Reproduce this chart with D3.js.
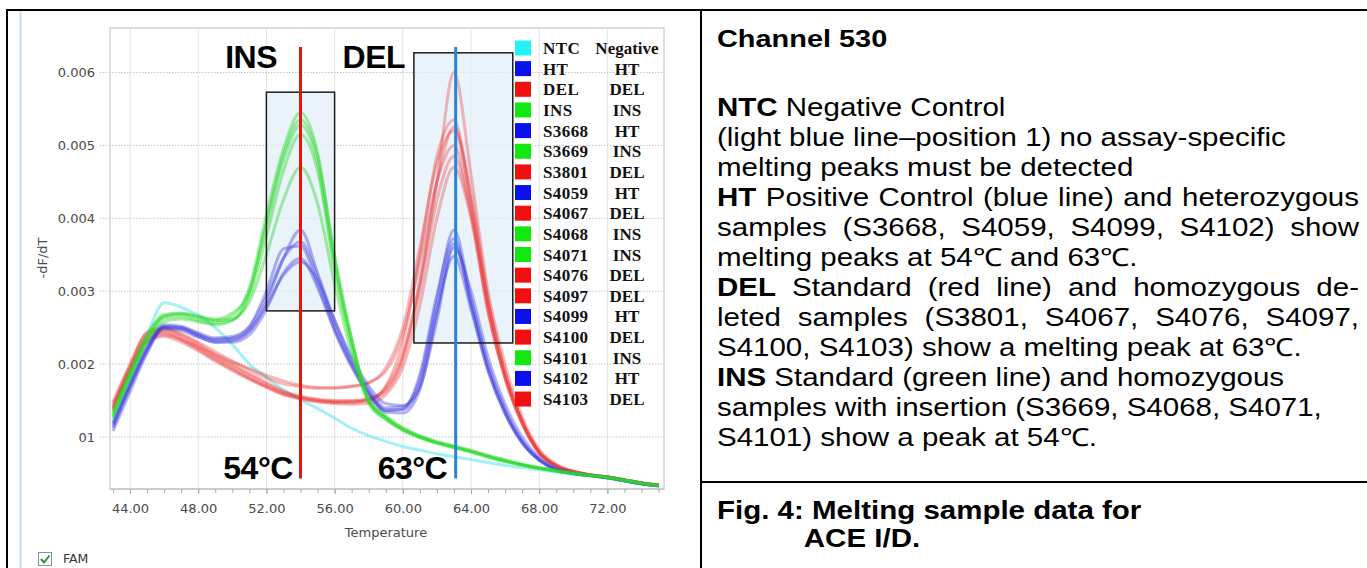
<!DOCTYPE html>
<html>
<head>
<meta charset="utf-8">
<script src="https://cdn.jsdelivr.net/npm/d3@7"></script>
<style>
  html, body { margin: 0; padding: 0; background: #fff; }
  svg { display: block; }
</style>
</head>
<body>
<div id="fig"></div>
<script>
// temperature grid (°C); curve values are -dF/dT in units of 1e-4
var temps = [43,44,45,46,47,48,49,50,51,52,53,54,55,56,57,58,59,60,61,62,63,64,65,66,67,68,69,70,71,72,73,74,75];

var ntc   = [12.5,18.0,24.0,28.4,27.8,26.7,25.0,22.7,20.0,18.2,16.5,15.1,13.9,12.6,11.2,10.2,9.4,8.7,8.2,7.7,7.3,6.9,6.5,6.1,5.8,5.5,5.2,4.9,4.7,4.5,4.1,3.7,3.3];

var ht    = [11.5,17.0,22.0,25.2,25.0,24.0,23.3,23.4,24.6,28.5,34.5,38.4,32.5,26.0,20.5,16.5,14.0,14.2,18.0,28.8,38.4,29.0,20.0,13.8,9.5,7.0,5.6,5.0,4.7,4.4,4.0,3.6,3.3];
var s3668 = [12.0,17.5,22.5,25.4,25.2,24.3,23.6,23.8,25.2,30.0,35.8,36.2,31.0,24.8,19.8,16.0,13.6,13.8,18.6,29.5,37.2,28.0,19.2,13.2,9.2,6.8,5.5,5.0,4.7,4.4,4.0,3.6,3.3];
var s4059 = [11.8,17.2,22.2,25.0,24.8,23.8,23.0,23.0,24.0,27.5,32.5,34.5,30.5,24.5,19.6,15.8,13.4,13.3,16.5,27.0,36.5,28.5,19.6,13.5,9.3,6.9,5.5,5.0,4.7,4.4,4.0,3.6,3.3];
var s4099 = [10.8,16.2,21.5,24.8,24.6,23.7,23.0,23.2,24.5,28.0,32.2,34.0,31.5,26.0,21.0,17.0,14.6,14.3,16.8,26.0,36.0,30.0,21.0,14.5,10.0,7.2,5.7,5.1,4.7,4.4,4.0,3.6,3.3];
var s4102 = [11.2,16.8,21.8,25.1,25.0,24.1,23.4,23.6,25.0,29.2,34.5,36.8,32.0,25.2,20.2,16.2,13.7,13.8,17.2,27.5,34.8,27.5,19.0,13.2,9.2,6.8,5.5,5.0,4.7,4.4,4.0,3.6,3.3];

var del   = [14.2,19.5,24.0,24.8,24.0,22.8,21.3,20.0,18.7,17.5,16.3,15.6,15.2,15.0,15.0,15.2,16.8,21.5,31.0,45.0,60.0,46.0,30.0,20.0,12.8,8.3,6.3,5.3,4.8,4.5,4.1,3.7,3.4];
var s3801 = [13.8,19.2,23.6,24.4,23.5,22.2,20.8,19.5,18.2,17.0,16.0,15.4,15.0,14.8,14.8,15.0,17.0,23.0,35.0,48.5,53.5,42.0,28.5,18.5,12.0,7.8,6.0,5.2,4.8,4.5,4.1,3.7,3.4];
var s4067 = [14.5,19.8,24.2,24.6,23.8,22.5,21.0,19.8,18.5,17.3,16.2,15.5,15.1,14.9,14.9,15.3,16.5,21.0,31.5,45.0,52.5,43.5,29.0,19.0,12.3,8.0,6.1,5.3,4.8,4.5,4.1,3.7,3.4];
var s4076 = [14.0,19.0,23.2,24.0,23.4,22.4,21.3,20.3,19.4,18.5,17.7,17.1,16.8,16.8,17.0,17.5,19.0,24.0,34.0,45.0,50.0,41.0,27.5,18.0,11.8,7.8,6.0,5.2,4.8,4.5,4.1,3.7,3.4];
var s4097 = [13.5,18.8,23.0,23.8,23.0,21.8,20.4,19.1,17.9,16.8,15.8,15.2,14.8,14.6,14.5,14.6,15.8,19.5,28.0,40.0,47.0,40.0,27.0,18.0,11.8,7.8,6.0,5.2,4.8,4.5,4.1,3.7,3.4];
var s4100 = [14.8,20.0,24.4,25.0,24.2,23.0,21.7,20.4,19.2,18.1,17.3,16.9,16.7,16.7,16.9,17.4,19.5,25.0,36.0,47.5,52.0,42.5,28.5,18.8,12.2,8.0,6.1,5.3,4.8,4.5,4.1,3.7,3.4];
var s4103 = [13.9,19.1,23.4,24.2,23.3,22.0,20.6,19.3,18.0,16.9,15.9,15.3,14.9,14.7,14.7,15.0,16.2,20.5,30.0,42.5,48.5,40.5,27.5,18.2,12.0,7.9,6.0,5.2,4.8,4.5,4.1,3.7,3.4];

var ins   = [13.0,18.5,23.5,26.5,26.8,26.3,25.9,26.6,30.5,40.5,49.5,54.5,49.0,34.5,23.5,15.0,12.6,11.0,10.0,9.2,8.6,8.0,7.3,6.7,6.2,5.7,5.3,5.0,4.7,4.5,4.1,3.7,3.3];
var s3669 = [13.5,19.0,24.0,26.8,27.0,26.6,26.2,27.0,30.0,39.0,48.0,52.8,47.5,33.5,23.0,15.2,12.8,11.2,10.1,9.3,8.7,8.1,7.4,6.8,6.2,5.8,5.4,5.0,4.7,4.5,4.1,3.7,3.4];
var s4068 = [12.8,18.2,23.2,26.2,26.5,26.0,25.6,26.0,29.2,37.5,46.5,51.5,46.5,33.0,22.5,14.8,12.5,11.0,10.0,9.2,8.6,8.0,7.3,6.7,6.2,5.7,5.3,5.0,4.7,4.4,4.0,3.6,3.3];
var s4071 = [13.2,18.8,23.8,26.6,26.9,26.5,26.0,26.2,28.5,35.0,42.5,47.0,42.0,31.0,21.5,14.6,12.4,10.9,9.9,9.1,8.5,7.9,7.2,6.6,6.1,5.7,5.3,5.0,4.7,4.4,4.0,3.6,3.3];
var s4101 = [12.6,18.0,23.0,25.8,26.2,25.8,25.4,26.0,29.8,39.5,48.8,53.5,48.5,35.0,23.5,15.2,12.9,11.3,10.2,9.4,8.8,8.2,7.5,6.9,6.3,5.8,5.4,5.1,4.8,4.5,4.1,3.7,3.4];

// legend order
var sampleNames  = ['NTC','HT','DEL','INS','S3668','S3669','S3801','S4059','S4067','S4068','S4071','S4076','S4097','S4099','S4100','S4101','S4102','S4103'];
var sampleStatus = ['Negative','HT','DEL','INS','HT','INS','DEL','HT','DEL','INS','INS','DEL','DEL','HT','DEL','INS','HT','DEL'];
var sampleValues = [ntc, ht, del, ins, s3668, s3669, s3801, s4059, s4067, s4068, s4071, s4076, s4097, s4099, s4100, s4101, s4102, s4103];

var xTicks = [44,48,52,56,60,64,68,72];
var xMinor = [43,44,45,46,47,48,49,50,51,52,53,54,55,56,57,58,59,60,61,62,63,64,65,66,67,68,69,70,71,72,73,74,75];
var yTicks = [0.001,0.002,0.003,0.004,0.005,0.006];
var yTickLabels = ['01','0.002','0.003','0.004','0.005','0.006'];

// highlighted windows: [tempFrom, tempTo, valueLow, valueHigh]
var insWindow = [52, 56, 0.00273, 0.00573];
var delWindow = [60.65, 66.45, 0.00229, 0.00627];
var peakTemps = [54, 63.1];

var lineColor  = {Negative: '#58e4ec', HT: '#3838dc', DEL: '#ea3434', INS: '#2cd82c'};
var lineAlpha  = {Negative: 0.55, HT: 0.38, DEL: 0.34, INS: 0.42};
var swatchColor = {Negative: '#22f4f6', HT: '#0a10ea', DEL: '#f01010', INS: '#10e810'};

var W = 1367, H = 568;
var plot = {left: 110, right: 664, top: 28, bottom: 489};

var x = d3.scaleLinear().domain([44, 72]).range([130, 607.4]);
var y = d3.scaleLinear().domain([0.001, 0.006]).range([437, 72.5]);

var svg = d3.select('#fig').append('svg')
  .attr('width', W).attr('height', H)
  .style('font-family', "'Liberation Sans', Arial, sans-serif");

// ---- frame ----
var frame = svg.append('g').attr('stroke', '#000').attr('stroke-width', 2);
frame.append('line').attr('x1', 6).attr('x2', W).attr('y1', 10).attr('y2', 10);
frame.append('line').attr('x1', 7).attr('x2', 7).attr('y1', 9).attr('y2', H);
frame.append('line').attr('x1', 701).attr('x2', 701).attr('y1', 9).attr('y2', H);
frame.append('line').attr('x1', 701).attr('x2', W).attr('y1', 482).attr('y2', 482);
svg.append('line')
  .attr('x1', 20.5).attr('x2', 20.5).attr('y1', 11).attr('y2', H)
  .attr('stroke', '#c9dcef').attr('stroke-width', 2);

// ---- chart ----
var chart = svg.append('g');

svg.append('defs').append('clipPath').attr('id', 'plotclip')
  .append('rect')
    .attr('x', plot.left).attr('y', plot.top)
    .attr('width', plot.right - plot.left).attr('height', plot.bottom - plot.top);

chart.append('rect')
  .attr('x', plot.left).attr('y', plot.top)
  .attr('width', plot.right - plot.left).attr('height', plot.bottom - plot.top)
  .attr('fill', '#fff').attr('stroke', '#d4d4d4').attr('stroke-width', 1.5);

chart.append('g').selectAll('line').data(xTicks).join('line')
  .attr('x1', d => x(d)).attr('x2', d => x(d))
  .attr('y1', plot.top).attr('y2', plot.bottom)
  .attr('stroke', '#e2e2e2').attr('stroke-width', 1);

chart.append('g').selectAll('line').data(yTicks).join('line')
  .attr('x1', plot.left - 10).attr('x2', plot.right)
  .attr('y1', d => y(d)).attr('y2', d => y(d))
  .attr('stroke', '#c4c4c4').attr('stroke-width', 1)
  .attr('stroke-dasharray', '1.5,1.5');

// window fills
var windows = [insWindow, delWindow];
chart.append('g').selectAll('rect').data(windows).join('rect')
  .attr('x', d => x(d[0])).attr('y', d => y(d[3]))
  .attr('width', d => x(d[1]) - x(d[0])).attr('height', d => y(d[2]) - y(d[3]))
  .attr('fill', '#e3edf8').attr('fill-opacity', 0.75);

// curves
var line = d3.line()
  .x((d, i) => x(temps[i]))
  .y(d => y(d * 1e-4))
  .curve(d3.curveMonotoneX);

var drawOrder = ['Negative', 'DEL', 'HT', 'INS'];
var curves = sampleValues.map(function (v, i) {
  return {name: sampleNames[i], status: sampleStatus[i], values: v};
}).sort(function (a, b) { return drawOrder.indexOf(a.status) - drawOrder.indexOf(b.status); });

chart.append('g').attr('clip-path', 'url(#plotclip)')
  .selectAll('path').data(curves).join('path')
    .attr('d', d => line(d.values))
    .attr('fill', 'none')
    .attr('stroke', d => lineColor[d.status])
    .attr('stroke-opacity', d => lineAlpha[d.status])
    .attr('stroke-width', 3)
    .attr('stroke-linejoin', 'round');

// window outlines
chart.append('g').selectAll('rect').data(windows).join('rect')
  .attr('x', d => x(d[0])).attr('y', d => y(d[3]))
  .attr('width', d => x(d[1]) - x(d[0])).attr('height', d => y(d[2]) - y(d[3]))
  .attr('fill', 'none').attr('stroke', '#1c1c1c').attr('stroke-width', 1.5);

// peak markers
var peakColors = ['#e41414', '#2a84d8'];
chart.append('g').selectAll('line').data(peakTemps).join('line')
  .attr('x1', d => x(d)).attr('x2', d => x(d))
  .attr('y1', y(0.00635)).attr('y2', y(0.00043))
  .attr('stroke', (d, i) => peakColors[i]).attr('stroke-width', 3);

// axes
var xAxis = chart.append('g')
  .attr('transform', 'translate(0,' + plot.bottom + ')')
  .call(d3.axisBottom(x).tickValues(xTicks).tickFormat(d3.format('.2f')).tickSize(5).tickPadding(10));
chart.append('g')
  .attr('transform', 'translate(0,' + plot.bottom + ')')
  .call(d3.axisBottom(x).tickValues(xMinor).tickFormat('').tickSize(4).tickSizeOuter(0))
  .call(g => g.select('.domain').remove());
xAxis.select('.domain').attr('stroke', '#b8b8b8').attr('d', 'M' + plot.left + ',0H' + plot.right);
chart.selectAll('.tick line').attr('stroke', '#a8a8a8');
xAxis.selectAll('text')
  .attr('fill', '#4a4a4a').style('font-family', "'DejaVu Sans', sans-serif").style('font-size', '13px');

var yAxis = chart.append('g')
  .attr('transform', 'translate(' + (plot.left - 15) + ',0)')
  .call(d3.axisLeft(y).tickValues(yTicks).tickFormat((d, i) => yTickLabels[i]).tickSize(0).tickPadding(0));
yAxis.select('.domain').remove();
yAxis.selectAll('text')
  .attr('fill', '#4a4a4a').style('font-family', "'DejaVu Sans', sans-serif").style('font-size', '13px');

chart.append('text')
  .attr('x', (plot.left + plot.right) / 2 - 1).attr('y', 537)
  .attr('text-anchor', 'middle').attr('fill', '#4a4a4a')
  .style('font-family', "'DejaVu Sans', sans-serif").style('font-size', '13px')
  .text('Temperature');
chart.append('text')
  .attr('transform', 'translate(47,258) rotate(-90)')
  .attr('text-anchor', 'middle').attr('fill', '#4a4a4a')
  .style('font-family', "'DejaVu Sans', sans-serif").style('font-size', '13px')
  .text('-dF/dT');

// FAM checkbox
chart.append('rect').attr('x', 38.5).attr('y', 552.5).attr('width', 13).attr('height', 13)
  .attr('fill', '#fff').attr('stroke', '#7c94ae');
chart.append('path').attr('d', 'M41,559 L44,562.5 L49.5,555.5')
  .attr('fill', 'none').attr('stroke', '#2f8f2f').attr('stroke-width', 2);
chart.append('text').attr('x', 63).attr('y', 563)
  .attr('fill', '#333').style('font-family', "'DejaVu Sans', sans-serif").style('font-size', '12.5px')
  .text('FAM');

// big annotations
var annot = [
  {text: 'INS',  t: 52.62, v: 0.00606},
  {text: 'DEL',  t: 60.13, v: 0.00606},
  {text: '54°C', t: 53.55, v: 0.00043},
  {text: '63°C', t: 62.6,  v: 0.00043}
];
chart.append('g').selectAll('text').data(annot).join('text')
  .attr('x', d => x(d.t)).attr('y', d => y(d.v))
  .attr('text-anchor', 'end')
  .attr('fill', '#000')
  .style('font-weight', 'bold').style('font-size', '32px').style('letter-spacing', '-0.5px')
  .text(d => d.text);

// legend
var legend = chart.append('g')
  .style('font-family', "'Liberation Serif', 'Times New Roman', serif")
  .style('font-weight', 'bold').style('font-size', '17px');
var rowH = 20.65;
var rows = legend.selectAll('g').data(sampleNames).join('g')
  .attr('transform', (d, i) => 'translate(0,' + (48 + i * rowH) + ')');
rows.append('rect').attr('x', 515).attr('y', -7.5).attr('width', 16).attr('height', 15)
  .attr('fill', (d, i) => swatchColor[sampleStatus[i]]);
rows.append('text').attr('x', 543).attr('y', 6).attr('fill', '#111')
  .style('letter-spacing', '0.4px')
  .text(d => d);
rows.append('text').attr('x', 627).attr('y', 6).attr('fill', '#111')
  .attr('text-anchor', 'middle')
  .text((d, i) => sampleStatus[i]);

// ---- description panel ----
var panel = svg.append('g').attr('transform', 'translate(717,0) scale(1.18,1)')
  .style('font-size', '25px').attr('fill', '#000');
var colW = 642 / 1.18;

panel.append('text').attr('x', 0).attr('y', 47).style('font-weight', 'bold').style('font-size', '24.5px')
  .text('Channel 530');

var body = [
  [['NTC', true], [' Negative Control']],
  [['(light blue line\u2013position 1) no assay-specific']],
  [['melting peaks must be detected']],
  [['HT', true], [' Positive Control (blue line) and heterozygous']],
  [['samples (S3668, S4059, S4099, S4102) show']],
  [['melting peaks at 54\u2103 and 63\u2103.']],
  [['DEL', true], [' Standard (red line) and homozygous de-']],
  [['leted samples (S3801, S4067, S4076, S4097,']],
  [['S4100, S4103) show a melting peak at 63\u2103.']],
  [['INS', true], [' Standard (green line) and homozygous']],
  [['samples with insertion (S3669, S4068, S4071,']],
  [['S4101) show a peak at 54\u2103.']]
];
var justified = [false, false, false, true, true, false, true, true, false, false, false, false];

body.forEach(function (parts, i) {
  var t = panel.append('text').attr('x', 0).attr('y', 116 + i * 30);
  parts.forEach(function (p) {
    t.append('tspan').style('font-weight', p[1] ? 'bold' : null).text(p[0]);
  });
  if (justified[i]) {
    var len = t.node().getComputedTextLength();
    var gaps = parts.map(p => p[0]).join('').split(' ').length - 1;
    t.style('word-spacing', ((colW - len) / gaps) + 'px');
  }
});

panel.append('text').attr('x', 0).attr('y', 519).style('font-weight', 'bold')
  .text('Fig. 4: Melting sample data for');
var indent = panel.append('text').style('font-weight', 'bold').style('visibility', 'hidden')
  .text('Fig. 4: ');
var indentW = indent.node().getComputedTextLength();
indent.remove();
panel.append('text').attr('x', indentW).attr('y', 547).style('font-weight', 'bold')
  .text('ACE I/D.');
</script>
</body>
</html>
